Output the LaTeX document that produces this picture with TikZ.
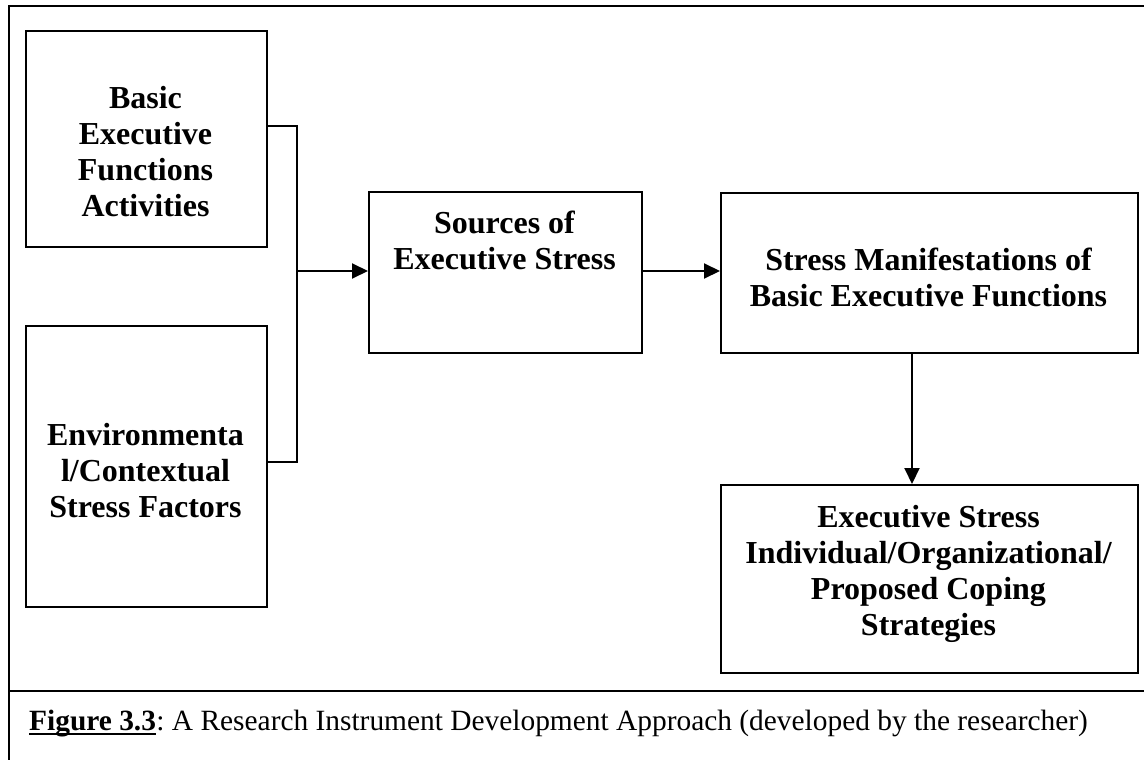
\documentclass[tikz,border=0pt]{standalone}
\usepackage{fontspec}
\setmainfont{Liberation Serif}
\usetikzlibrary{arrows.meta}

\tikzset{
  box/.style={draw, line width=2pt, inner sep=0pt, anchor=north west},
  boxtext/.style={align=center, inner sep=0pt,
    font=\fontsize{32}{36}\selectfont\bfseries},
  link/.style={line width=2pt},
  arrowlink/.style={line width=2pt, -{Triangle[length=16pt,width=15pt]}},
  frameline/.style={line width=2.2pt, line cap=rect},
  captext/.style={anchor=base west, inner sep=0pt,
    font=\fontsize{29.4}{34}\selectfont\frenchspacing},
}

\begin{document}
\begin{tikzpicture}[x=1pt,y=-1pt]
  \useasboundingbox (0,0) rectangle (1144,760);

  % outer frame and caption separator
  \coordinate (ftl) at (9,6);
  \coordinate (ftr) at (1144,6);
  \coordinate (fbl) at (9,760);
  \coordinate (sepl) at (9,691);
  \coordinate (sepr) at (1144,691);
  \draw[frameline] (ftr) -- (ftl) -- (fbl);
  \draw[frameline] (sepl) -- (sepr);

  % boxes
  \node[box, minimum width=241pt, minimum height=216pt] (b1) at (25,30) {};
  \node[box, minimum width=241pt, minimum height=281pt] (b2) at (25,325) {};
  \node[box, minimum width=273pt, minimum height=161pt] (b3) at (368,191) {};
  \node[box, minimum width=417pt, minimum height=160pt] (b4) at (720,192) {};
  \node[box, minimum width=417pt, minimum height=188pt] (b5) at (720,484) {};

  % box texts
  \node[boxtext] (t1) at (145.5,152) {Basic\\Executive\\Functions\\Activities};
  \node[boxtext] (t2) at (145.5,471) {Environmenta\\l/Contextual\\Stress Factors};
  \node[boxtext] (t3) at (504.5,240) {Sources of\\Executive Stress};
  \node[boxtext] (t4) at (928.5,277) {Stress Manifestations of\\Basic Executive Functions};
  \node[boxtext] (t5) at (928.5,574) {Executive Stress\\Individual/Organizational/\\Proposed Coping\\Strategies};

  % joining bracket from the two input boxes
  \coordinate (j1) at (297,126);
  \coordinate (j2) at (297,462);
  \coordinate (jm) at (297,271);
  \coordinate (dn) at (912,0);
  \draw[link] (b1.east |- j1) -- (j1) -- (j2) -- (b2.east |- j2);
  \draw[arrowlink] (jm) -- (b3.west |- jm);
  \draw[arrowlink] (b3.east |- jm) -- (b4.west |- jm);
  \draw[arrowlink] (b4.south -| dn) -- (b5.north -| dn);

  % caption with underlined figure number
  \node[captext] (capa) at (29,730) {\textbf{Figure 3.3}};
  \node[captext] (capb) at (capa.base east) {: A Research Instrument Development Approach (developed by the researcher)};
  \coordinate (ulo) at (0,4);
  \draw[line width=2pt] ([shift={(ulo)}]capa.base west) -- ([shift={(ulo)}]capa.base east);
\end{tikzpicture}
\end{document}
